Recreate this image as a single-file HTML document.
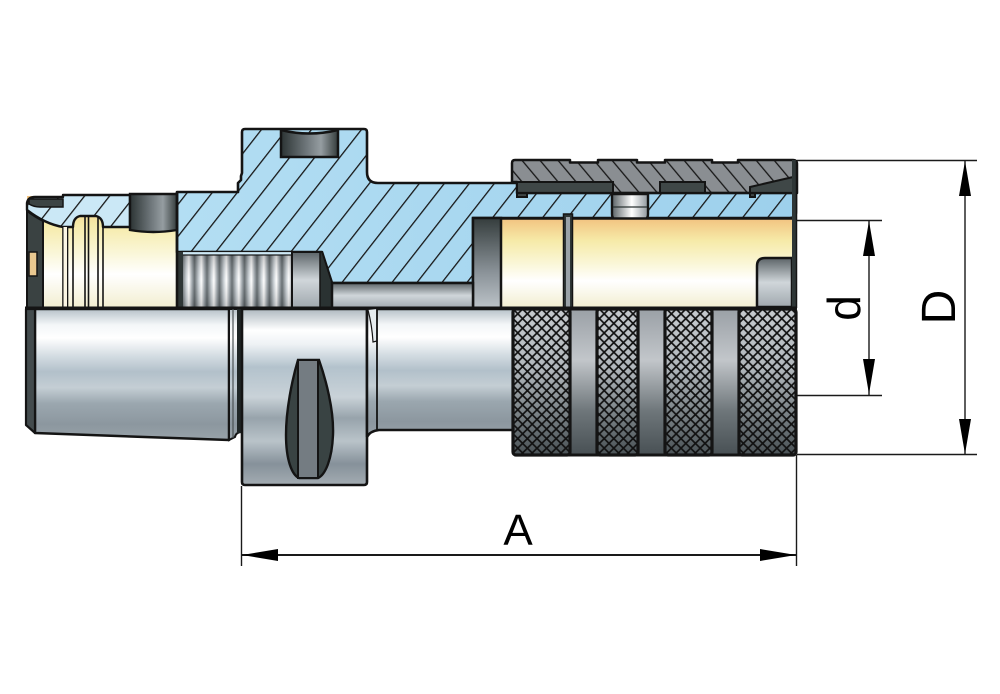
<!DOCTYPE html>
<html><head><meta charset="utf-8"><style>
html,body{margin:0;padding:0;background:#fff;}
svg{display:block;}
</style></head><body>
<svg width="1000" height="694" viewBox="0 0 1000 694" xmlns="http://www.w3.org/2000/svg">
<defs>
<pattern id="hb" patternUnits="userSpaceOnUse" width="19.7" height="20" patternTransform="rotate(38)">
<line x1="10" y1="-2" x2="10" y2="22" stroke="#161616" stroke-width="1.3"/></pattern>
<pattern id="hn" patternUnits="userSpaceOnUse" width="13.8" height="20" patternTransform="rotate(-40)">
<line x1="7" y1="-2" x2="7" y2="22" stroke="#161616" stroke-width="1.3"/></pattern>
<pattern id="kn" patternUnits="userSpaceOnUse" width="9.6" height="9.6" x="513" y="309">
<path d="M0,0 L9.6,9.6 M9.6,0 L0,9.6" stroke="#111" stroke-width="1.7"/></pattern>
<linearGradient id="gblue" x1="0" y1="0" x2="1" y2="0">
<stop offset="0" stop-color="#b3def3"/><stop offset="1" stop-color="#9dd0ec"/></linearGradient>
<linearGradient id="gyel" x1="0" y1="0" x2="0" y2="1">
<stop offset="0" stop-color="#f2c27f"/><stop offset="0.25" stop-color="#f6eaa8"/><stop offset="0.5" stop-color="#faf6d6"/><stop offset="0.7" stop-color="#ffffff"/><stop offset="1" stop-color="#f2eed0"/></linearGradient>
<linearGradient id="gsteel" x1="0" y1="0" x2="0" y2="1">
<stop offset="0" stop-color="#b6c1c8"/><stop offset="0.12" stop-color="#f3f6f8"/><stop offset="0.22" stop-color="#ffffff"/><stop offset="0.36" stop-color="#d3dce2"/><stop offset="0.48" stop-color="#b2c0ca"/><stop offset="0.6" stop-color="#c4ced4"/><stop offset="0.72" stop-color="#9ba7af"/><stop offset="0.88" stop-color="#8c979f"/><stop offset="1" stop-color="#98a2a9"/></linearGradient>
<linearGradient id="gflange" x1="0" y1="0" x2="0" y2="1">
<stop offset="0" stop-color="#aeb9c0"/><stop offset="0.12" stop-color="#ffffff"/><stop offset="0.2" stop-color="#eef2f5"/><stop offset="0.33" stop-color="#b3c2cc"/><stop offset="0.5" stop-color="#c9d2d8"/><stop offset="0.62" stop-color="#97a3ab"/><stop offset="0.75" stop-color="#b9c3c9"/><stop offset="0.88" stop-color="#86919a"/><stop offset="1" stop-color="#a3acb2"/></linearGradient>
<linearGradient id="gknurl" x1="0" y1="0" x2="0" y2="1">
<stop offset="0" stop-color="#c6cace"/><stop offset="0.4" stop-color="#b2b8bd"/><stop offset="0.7" stop-color="#7d8589"/><stop offset="1" stop-color="#4a5256"/></linearGradient>
<linearGradient id="ggap" x1="0" y1="0" x2="0" y2="1">
<stop offset="0" stop-color="#9aa0a6"/><stop offset="0.35" stop-color="#c2c6ca"/><stop offset="0.7" stop-color="#6e767a"/><stop offset="1" stop-color="#485054"/></linearGradient>
<linearGradient id="gdarkh" x1="0" y1="0" x2="1" y2="0">
<stop offset="0" stop-color="#2c3434"/><stop offset="0.45" stop-color="#6f777b"/><stop offset="0.7" stop-color="#959da1"/><stop offset="1" stop-color="#343c3c"/></linearGradient>
<linearGradient id="gdarkv" x1="0" y1="0" x2="0" y2="1">
<stop offset="0" stop-color="#353d3d"/><stop offset="0.6" stop-color="#8a9298"/><stop offset="1" stop-color="#bcc3c8"/></linearGradient>
<linearGradient id="ggrayv" x1="0" y1="0" x2="0" y2="1">
<stop offset="0" stop-color="#5c6468"/><stop offset="0.5" stop-color="#d0d6da"/><stop offset="1" stop-color="#a0a8ae"/></linearGradient>
<linearGradient id="gpin" x1="0" y1="0" x2="1" y2="0">
<stop offset="0" stop-color="#5a6266"/><stop offset="0.55" stop-color="#ffffff"/><stop offset="1" stop-color="#8e969c"/></linearGradient>
<linearGradient id="gth1" x1="0" y1="0" x2="1" y2="0">
<stop offset="0" stop-color="#5a6266"/><stop offset="0.35" stop-color="#c9d0d5"/><stop offset="0.55" stop-color="#ffffff"/><stop offset="0.8" stop-color="#9aa2a8"/><stop offset="1" stop-color="#5a6266"/></linearGradient>
<pattern id="thread" patternUnits="userSpaceOnUse" width="12.5" height="60" x="182" y="252">
<rect width="12.5" height="60" fill="url(#gth1)"/></pattern>
<linearGradient id="gthv" x1="0" y1="0" x2="0" y2="1">
<stop offset="0" stop-color="#000" stop-opacity="0.25"/><stop offset="0.5" stop-color="#fff" stop-opacity="0.1"/><stop offset="1" stop-color="#000" stop-opacity="0.2"/></linearGradient>
</defs>

<rect width="1000" height="694" fill="#fff"/>

<!-- yellow bore left -->
<rect x="27" y="196" width="152" height="112" fill="url(#gyel)"/>

<!-- main blue body -->
<path d="M177,192 H238 V183 L241,180 V176 L242,173 V132 Q242,129 245,129 H364 Q367,129 367,132 V172 Q367,183 378,183 H790 Q796,183 796,190 V212 Q796,218 790,218 H473 V283 H332 L322,252 H177 Z" fill="url(#gblue)"/>
<path d="M177,192 H238 V183 L241,180 V176 L242,173 V132 Q242,129 245,129 H364 Q367,129 367,132 V172 Q367,183 378,183 H790 Q796,183 796,190 V212 Q796,218 790,218 H473 V283 H332 L322,252 H177 Z" fill="url(#hb)"/>
<path d="M177,192 H238 V183 L241,180 V176 L242,173 V132 Q242,129 245,129 H364 Q367,129 367,132 V172 Q367,183 378,183 H790 Q796,183 796,190 V212 Q796,218 790,218 H473 V283 H332 L322,252 H177 Z" fill="none" stroke="#141414" stroke-width="2.6" stroke-linejoin="round"/>

<!-- flange top slot -->
<path d="M281,130 Q309,137 338,130 V157 H281 Z" fill="url(#gdarkh)" stroke="#141414" stroke-width="2.5"/>

<!-- nut upper (section) -->
<path d="M512,182 V163 Q512,160 515,160 H570 V162.5 H598 V160 H637 V162.5 H665 V160 H712 V162.5 H738 V160 H793 Q797,160 797,164 V193 H517 V182 Z" fill="#8a8e92"/>
<path d="M512,182 V163 Q512,160 515,160 H570 V162.5 H598 V160 H637 V162.5 H665 V160 H712 V162.5 H738 V160 H793 Q797,160 797,164 V193 H517 V182 Z" fill="url(#hn)"/>
<path d="M512,182 V163 Q512,160 515,160 H570 V162.5 H598 V160 H637 V162.5 H665 V160 H712 V162.5 H738 V160 H793 Q797,160 797,164 V193 H517 V182 Z" fill="none" stroke="#141414" stroke-width="2.5" stroke-linejoin="round"/>
<path d="M517,182 H613 V193 H527 V197 H517 Z" fill="#3f4747" stroke="#141414" stroke-width="2"/>
<rect x="660" y="182" width="45" height="11" fill="#3f4747" stroke="#141414" stroke-width="2"/>
<path d="M750,187 L793,177 V193 H755 V197 H750 Z" fill="#3f4747" stroke="#141414" stroke-width="2"/>
<line x1="517" y1="193" x2="797" y2="193" stroke="#141414" stroke-width="2.2"/>

<!-- pin -->
<path d="M612,194 H648 V214 Q648,221 640,221 H620 Q612,221 612,214 Z" fill="url(#gpin)" stroke="#141414" stroke-width="2.4"/>
<line x1="613" y1="207" x2="647" y2="207" stroke="#2a3232" stroke-width="1.2"/>

<!-- right yellow bore -->
<rect x="501" y="218" width="292" height="90" fill="url(#gyel)"/>
<line x1="473" y1="218.5" x2="796" y2="218.5" stroke="#141414" stroke-width="2.5"/>
<rect x="473" y="218" width="28" height="90" fill="url(#gdarkv)" stroke="#141414" stroke-width="2.5"/>
<rect x="563.5" y="214" width="9" height="94" fill="#2e3636" stroke="#141414" stroke-width="1.5"/>
<rect x="566" y="217" width="4" height="90" fill="#9aa2a8"/>
<path d="M757,307 V266 Q757,258 765,258 H792 V307 Z" fill="url(#ggrayv)" stroke="#141414" stroke-width="2.5"/>
<rect x="792" y="160" width="5" height="148" fill="#2e3636"/>
<line x1="796.5" y1="160" x2="796.5" y2="308" stroke="#141414" stroke-width="1.5"/>

<!-- thread -->
<rect x="182" y="252" width="110" height="56" fill="url(#thread)"/>
<rect x="182" y="252" width="110" height="56" fill="url(#gthv)"/>
<rect x="182" y="251.5" width="110" height="3.5" fill="#cfe9f6" stroke="#141414" stroke-width="1.2"/>
<rect x="177" y="252" width="6" height="56" fill="#2e3636"/>
<rect x="292" y="252" width="30" height="56" fill="url(#ggrayv)" stroke="#141414" stroke-width="2"/>
<path d="M320,252 H322 L332,283 V308 H320 Z" fill="#2a3232" stroke="#141414" stroke-width="1.5"/>
<rect x="332" y="283" width="141" height="25" fill="url(#ggrayv)" stroke="#141414" stroke-width="2.5"/>

<!-- collet section left -->
<path d="M27,208 V203 Q28,197 35,197 H63 V195 H130 V227 H103 C103,220 100,217 96,216 H80 C76,217 73,220 73,227 H63 Q45,224 27,210 Z" fill="#cbe8f6"/>
<path d="M27,208 V203 Q28,197 35,197 H63 V195 H130 V227 H103 C103,220 100,217 96,216 H80 C76,217 73,220 73,227 H63 Q45,224 27,210 Z" fill="url(#hb)"/>
<path d="M27,208 V203 Q28,197 35,197 H63 V195 H130 V227 H103 C103,220 100,217 96,216 H80 C76,217 73,220 73,227 H63 Q45,224 27,210 Z" fill="none" stroke="#141414" stroke-width="2.4" stroke-linejoin="round"/>
<path d="M29,199 H63 V207 H40 Q34,207 29,204 Z" fill="#3c4444" stroke="#141414" stroke-width="1.5"/>
<path d="M27,211 Q35,217 43,221 V308 H27 Z" fill="#3a4242" stroke="#141414" stroke-width="2"/>
<rect x="29" y="252" width="8" height="24" fill="#e9c890" stroke="#141414" stroke-width="1.5"/>
<g stroke="#141414" stroke-width="1.6">
<line x1="63" y1="227" x2="63" y2="308"/>
<line x1="67.5" y1="227" x2="67.5" y2="308"/>
<line x1="73" y1="224" x2="73" y2="308"/>
<line x1="85" y1="217" x2="85" y2="308"/>
<line x1="88.5" y1="217" x2="88.5" y2="308"/>
<line x1="98" y1="217" x2="98" y2="308"/>
<line x1="103" y1="224" x2="103" y2="308"/>
</g>
<rect x="63.5" y="227" width="3.5" height="80" fill="#fbf6e4"/>
<path d="M130,194 H177 V230 Q153,234 130,230 Z" fill="url(#gdarkh)" stroke="#141414" stroke-width="2.4"/>
<line x1="177" y1="192" x2="177" y2="308" stroke="#141414" stroke-width="2.6"/>

<line x1="25" y1="308" x2="797" y2="308" stroke="#141414" stroke-width="3"/>

<!-- lower half -->
<path d="M35,309 H229 V440 L35,433 Z" fill="url(#gsteel)" stroke="#141414" stroke-width="2.5" stroke-linejoin="round"/>
<path d="M26,309 H35 V433 L26,425 Z" fill="#434b4d" stroke="#141414" stroke-width="2.2" stroke-linejoin="round"/>
<path d="M229,309 H242 V432 Q236,432 235,437 L229,440 Z" fill="url(#gsteel)" stroke="#141414" stroke-width="2"/>
<line x1="233" y1="309" x2="233" y2="438" stroke="#4a5254" stroke-width="1.2"/>
<rect x="237" y="309" width="5" height="124" fill="#1f2626"/>
<path d="M242,309 H367 V482 Q367,485 364,485 H245 Q242,485 242,482 Z" fill="url(#gflange)" stroke="#141414" stroke-width="2.6"/>
<path d="M298,360 H319 C326,380 334,410 333,435 C332,460 325,475 318,478 H299 C292,475 286,460 286,435 C286,410 292,380 298,360 Z" fill="#394343" stroke="#141414" stroke-width="2.4"/>
<rect x="298" y="360" width="20" height="118" fill="#747c82" stroke="#141414" stroke-width="2"/>
<path d="M367,309 H513 V430 H379 Q370,431 367,437 Z" fill="url(#gsteel)" stroke="#141414" stroke-width="2.5"/>
<path d="M368,310 Q372,325 373,342 L377,341 V309" fill="#e6ecef" stroke="#141414" stroke-width="1.2"/>
<line x1="377" y1="309" x2="377" y2="430" stroke="#141414" stroke-width="1.8"/>

<!-- knurled nut -->
<g stroke="#141414" stroke-width="3">
<rect x="570" y="309" width="27" height="146" fill="url(#ggap)"/>
<rect x="638" y="309" width="27" height="146" fill="url(#ggap)"/>
<rect x="712" y="309" width="27" height="146" fill="url(#ggap)"/>
</g>
<g>
<rect x="513" y="309" width="57" height="146" rx="3" fill="url(#gknurl)"/>
<rect x="513" y="309" width="57" height="146" rx="3" fill="url(#kn)"/>
<rect x="597" y="309" width="41" height="146" rx="3" fill="url(#gknurl)"/>
<rect x="597" y="309" width="41" height="146" rx="3" fill="url(#kn)"/>
<rect x="665" y="309" width="47" height="146" rx="3" fill="url(#gknurl)"/>
<rect x="665" y="309" width="47" height="146" rx="3" fill="url(#kn)"/>
<rect x="739" y="309" width="57" height="146" rx="3" fill="url(#gknurl)"/>
<rect x="739" y="309" width="57" height="146" rx="3" fill="url(#kn)"/>
</g>
<g fill="none" stroke="#141414" stroke-width="3.2">
<rect x="513" y="309" width="57" height="146" rx="3"/>
<rect x="597" y="309" width="41" height="146" rx="3"/>
<rect x="665" y="309" width="47" height="146" rx="3"/>
<rect x="739" y="309" width="57" height="146" rx="3"/>
</g>

<!-- dimensions -->
<g stroke="#1a1a1a" stroke-width="1.4" fill="none">
<line x1="797" y1="160.5" x2="977" y2="160.5"/>
<line x1="797" y1="454.5" x2="977" y2="454.5"/>
<line x1="797" y1="220.5" x2="882" y2="220.5"/>
<line x1="797" y1="395.5" x2="882" y2="395.5"/>
<line x1="965" y1="160" x2="965" y2="455"/>
<line x1="869" y1="220" x2="869" y2="395"/>
<line x1="241.5" y1="486" x2="241.5" y2="566"/>
<line x1="796.5" y1="455" x2="796.5" y2="566"/>
<line x1="241" y1="555" x2="797" y2="555" stroke-width="2"/>
</g>
<g fill="#000">
<path d="M965,161 L959,196 L971,196 Z"/>
<path d="M965,454 L959,419 L971,419 Z"/>
<path d="M869,221 L863,256 L875,256 Z"/>
<path d="M869,394 L863,359 L875,359 Z"/>
<path d="M242,555 L278,549 L278,561 Z"/>
<path d="M796,555 L760,549 L760,561 Z"/>
</g>
<g font-family="Liberation Sans, Arial, sans-serif" fill="#000">
<text x="518" y="545" font-size="44" text-anchor="middle">A</text>
<text transform="translate(860,308) rotate(-90)" font-size="46" text-anchor="middle">d</text>
<text transform="translate(955,307) rotate(-90)" font-size="48" text-anchor="middle">D</text>
</g>
</svg>
</body></html>
